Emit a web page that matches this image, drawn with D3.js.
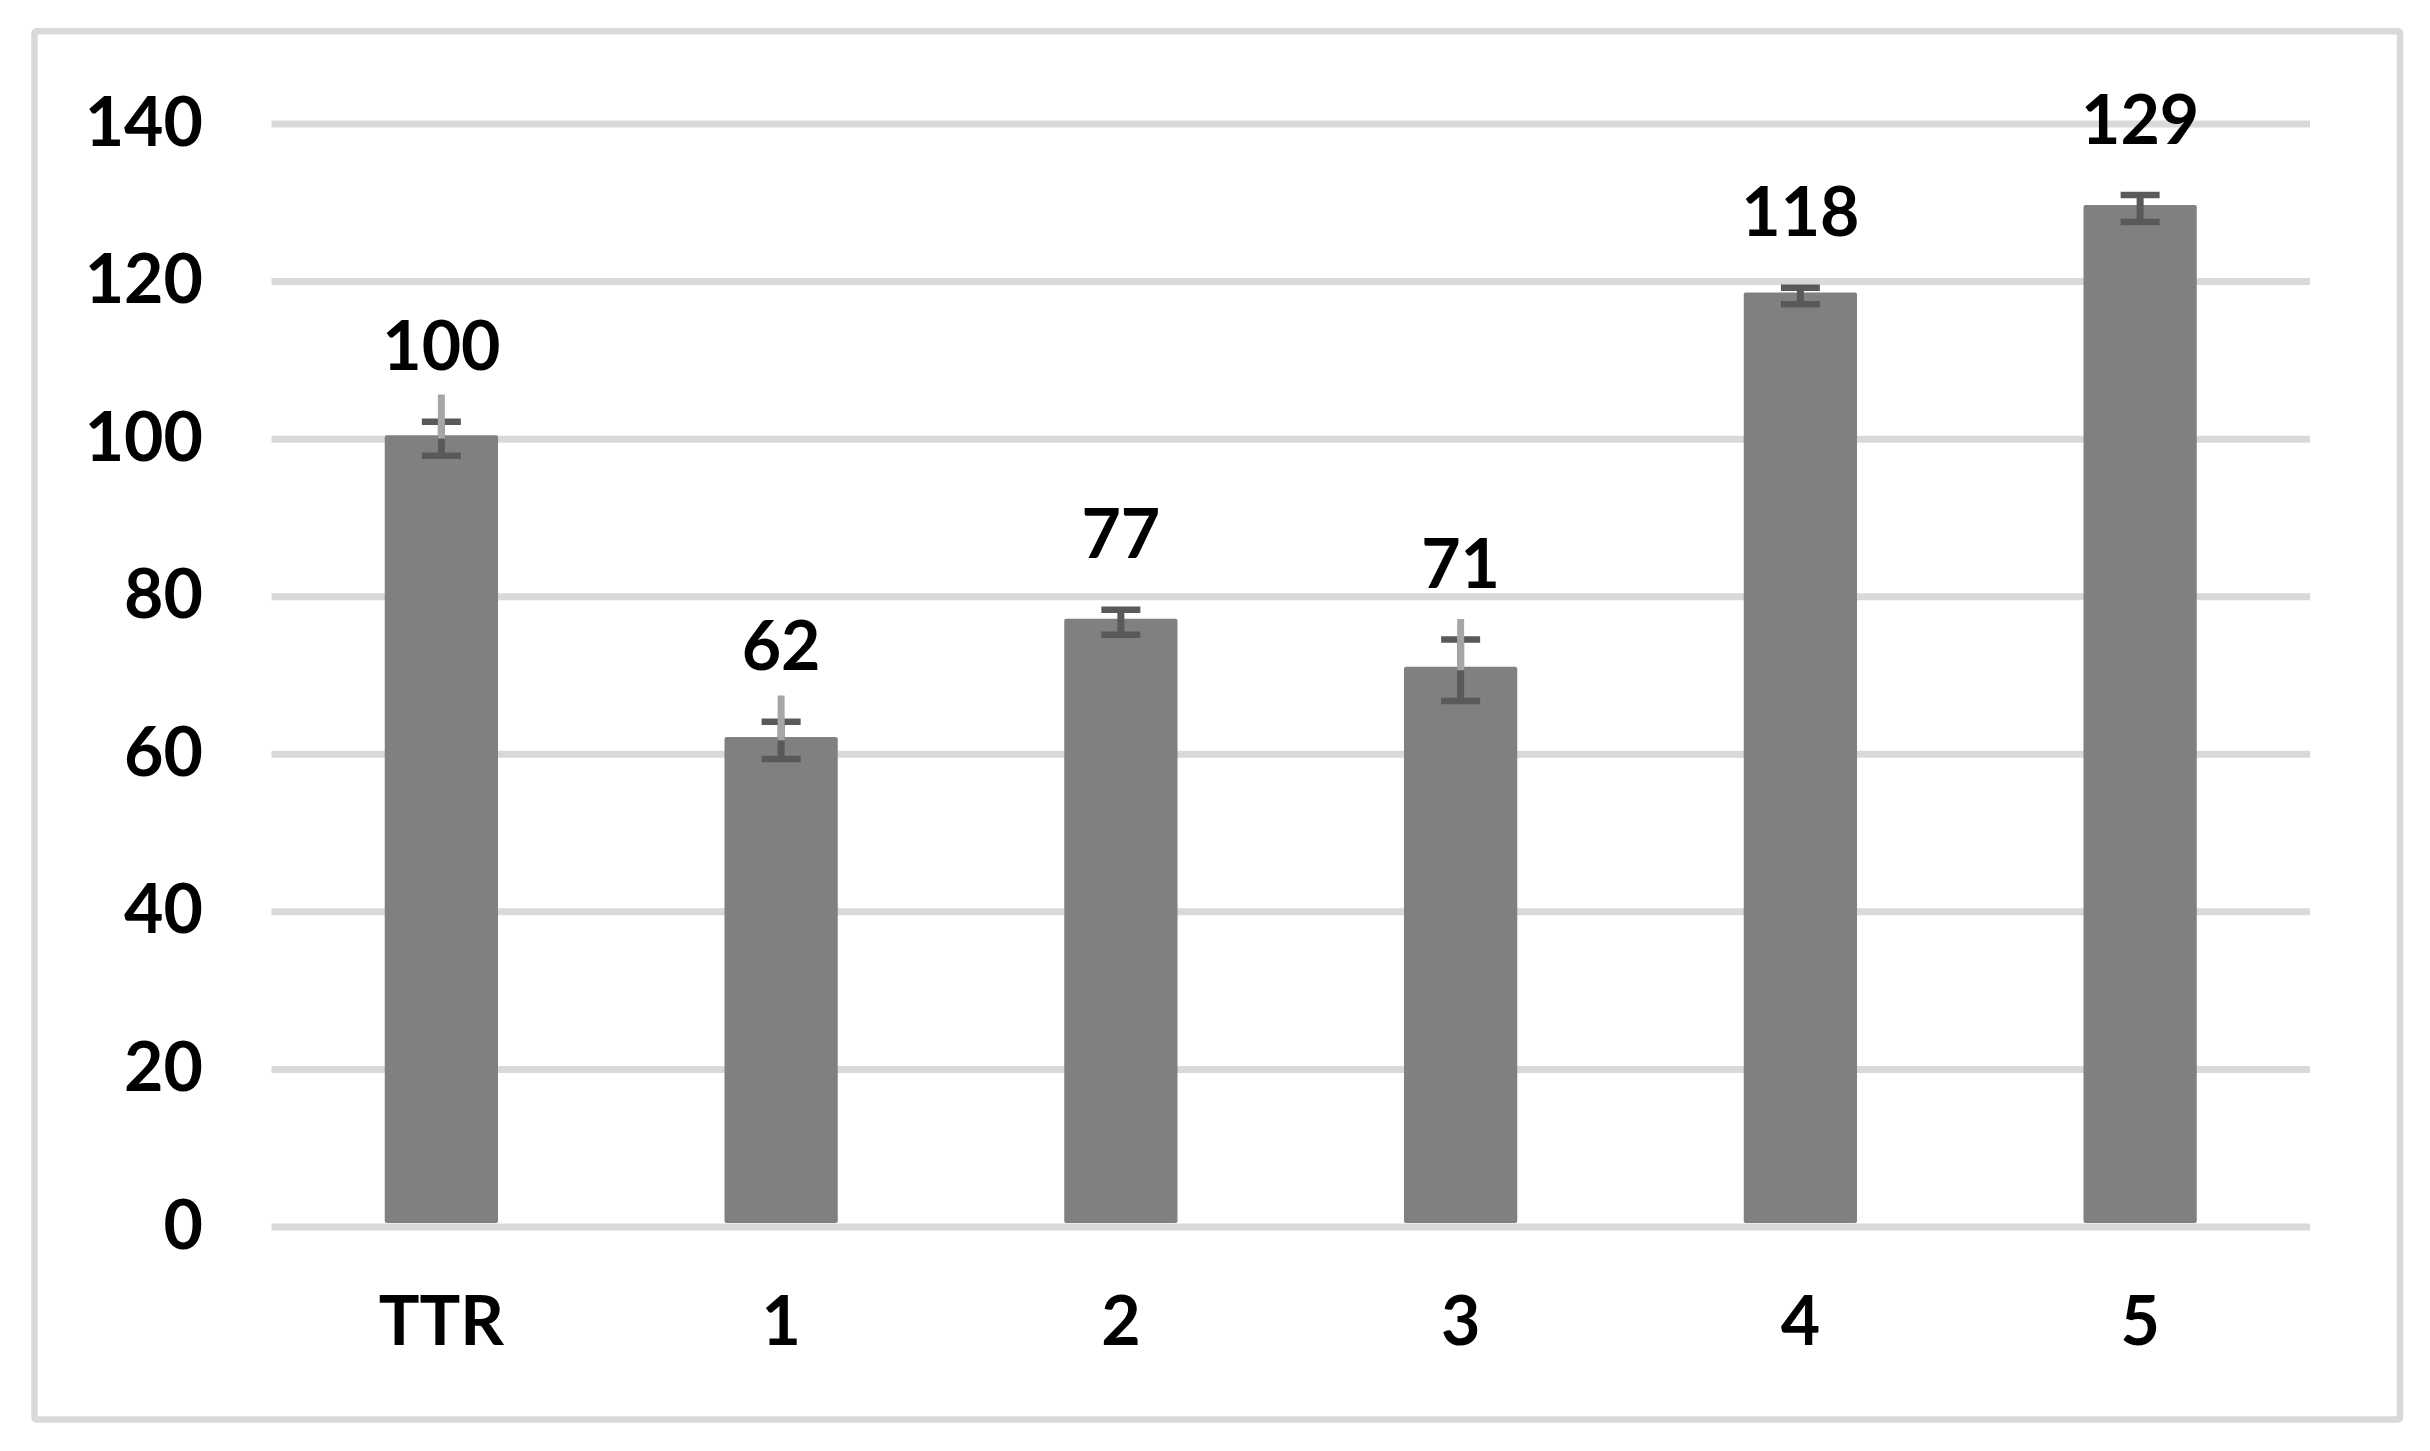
<!DOCTYPE html>
<html>
<head>
<meta charset="utf-8">
<script src="https://cdn.jsdelivr.net/npm/d3@7"></script>
<style>
  html, body { margin: 0; padding: 0; background: #ffffff; }
  svg { display: block; }
  text { font-family: "Lato", "Open Sans", sans-serif; font-weight: 700; fill: #000; }
</style>
</head>
<body>
<svg id="chart" width="2430" height="1451"></svg>
<script>
// ---- data ----
const categories = ["TTR", "1", "2", "3", "4", "5"];
const values = [100, 61.7, 76.7, 70.6, 118.1, 129.2];
const errors = [2.16, 2.37, 1.59, 3.9, 1.05, 1.71];          // dark symmetric error bars
const upperErrors = [5.6, 5.7, null, 6.5, null, null];       // light plus-only error bars
const yTicks = [0, 20, 40, 60, 80, 100, 120, 140];

// ---- layout ----
const W = 2430, H = 1451;
const left = 271.5, right = 2310;
const lineShift = 3.5; // gridlines / error bars rendered slightly below bar coordinates
const svg = d3.select("#chart");

svg.append("rect").attr("width", W).attr("height", H).attr("fill", "#fff");

// outer frame
svg.append("rect")
  .attr("x", 34.5).attr("y", 31.3)
  .attr("width", 2400 - 34.5).attr("height", 1419.5 - 31.3)
  .attr("rx", 2)
  .attr("fill", "none").attr("stroke", "#d9d9d9").attr("stroke-width", 6.5);

const x = d3.scaleBand().domain(categories).range([left, right]).padding(0);
const y = d3.scaleLinear().domain([0, 140]).range([1223, 120]);
const barW = x.bandwidth() / 3;

// y axis with gridlines
const yAxis = svg.append("g")
  .attr("transform", `translate(${left},${lineShift})`)
  .call(d3.axisLeft(y).tickValues(yTicks).tickSize(-(right - left)).tickPadding(68.5).tickFormat(d3.format("d")));
yAxis.select(".domain").remove();
yAxis.selectAll(".tick line").attr("stroke", "#d9d9d9").attr("stroke-width", 7);
yAxis.selectAll(".tick text")
  .attr("dy", 21.5)
  .style("font-size", "68px")
  .attr("text-anchor", "end");

// bars
svg.append("g").selectAll("rect")
  .data(values)
  .join("rect")
  .attr("x", (d, i) => x(categories[i]) + x.bandwidth() / 2 - barW / 2)
  .attr("y", d => y(d))
  .attr("width", barW)
  .attr("height", d => y(0) - y(d))
  .attr("rx", 2)
  .attr("fill", "#808080");

// dark error bars
const capW = 39;
const eg = svg.append("g").attr("transform", `translate(0,${lineShift})`);
values.forEach((v, i) => {
  const cx = x(categories[i]) + x.bandwidth() / 2;
  const e = errors[i];
  eg.append("line")
    .attr("x1", cx).attr("x2", cx)
    .attr("y1", y(v + e)).attr("y2", y(v - e))
    .attr("stroke", "#595959").attr("stroke-width", 7);
  [v + e, v - e].forEach(t => {
    eg.append("line")
      .attr("x1", cx - capW / 2).attr("x2", cx + capW / 2)
      .attr("y1", y(t)).attr("y2", y(t))
      .attr("stroke", "#595959").attr("stroke-width", 6.5);
  });
});
// light plus-only error bars
values.forEach((v, i) => {
  if (upperErrors[i] == null) return;
  const cx = x(categories[i]) + x.bandwidth() / 2;
  eg.append("line")
    .attr("x1", cx).attr("x2", cx)
    .attr("y1", y(v + upperErrors[i])).attr("y2", y(v))
    .attr("stroke", "#a6a6a6").attr("stroke-width", 7);
});

// data labels
svg.append("g").selectAll("text")
  .data(values)
  .join("text")
  .attr("x", (d, i) => x(categories[i]) + x.bandwidth() / 2)
  .attr("y", (d, i) => y(d + errors[i]) + lineShift - 51.5)
  .attr("text-anchor", "middle")
  .style("font-size", "68px")
  .text(d => d3.format(".0f")(d));

// x axis labels
const xAxis = svg.append("g")
  .call(d3.axisBottom(x).tickSize(0));
xAxis.select(".domain").remove();
xAxis.selectAll(".tick text")
  .attr("y", 1345).attr("dy", 0)
  .style("font-size", "68px");
</script>
</body>
</html>
